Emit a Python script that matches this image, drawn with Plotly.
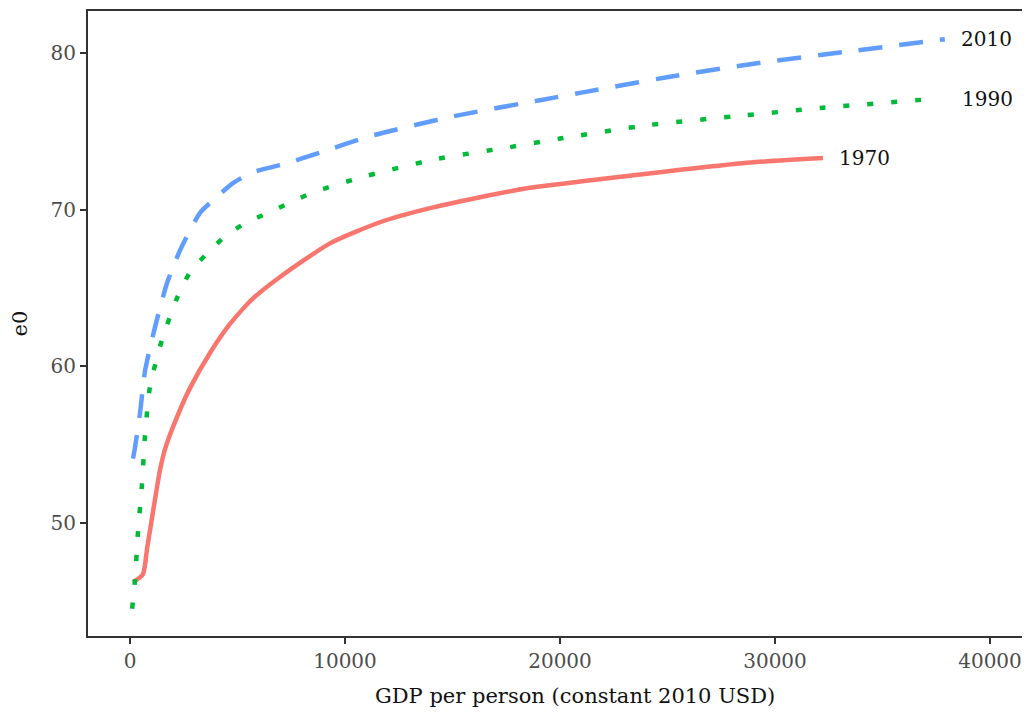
import plotly.graph_objects as go

years = ["1970", "1990", "2010"]

gdp_1970 = [140, 600, 800, 1000, 1200, 1400, 1650, 2200, 2790, 3700, 4650, 5700, 6977,
            9300, 11628, 13953, 16279, 18600, 20930, 24650, 28700, 32230]
e0_1970 = [46.2, 46.7, 48.4, 50.1, 51.8, 53.4, 54.8, 56.8, 58.6, 60.8, 62.7, 64.3, 65.7,
           67.85, 69.2, 70.1, 70.8, 71.4, 71.8, 72.4, 73.0, 73.3]

gdp_1990 = [100, 230, 370, 560, 700, 930, 1490, 2230, 2790, 3580, 4420, 5440, 6420, 7440,
            8510, 10700, 14100, 17670, 20000, 24050, 28050, 32100, 37530]
e0_1990 = [44.5, 46.3, 49.4, 52.5, 55.6, 58.7, 61.7, 64.5, 66.0, 67.2, 68.3, 69.2, 69.8, 70.45,
           71.1, 72.05, 73.2, 74.0, 74.55, 75.4, 75.96, 76.5, 77.1]

gdp_2010 = [140, 233, 465, 700, 1163, 1720, 2326, 3256, 3860, 4790, 5720, 7116, 8837,
            11160, 15000, 19070, 21070, 25116, 29163, 33350, 37900]
e0_2010 = [54.1, 54.8, 57.0, 59.7, 62.5, 65.3, 67.4, 69.8, 70.6, 71.7, 72.4, 72.9, 73.65,
           74.7, 75.96, 77.0, 77.5, 78.5, 79.36, 80.1, 80.9]

x_ticks = [0, 10000, 20000, 30000, 40000]
y_ticks = [50, 60, 70, 80]
x_title = "GDP per person (constant 2010 USD)"
y_title = "e0"

series = [
    (years[0], gdp_1970, e0_1970, "#F8766D", "solid", 14),
    (years[1], gdp_1990, e0_1990, "#00BA38", "6px,18px", 23),
    (years[2], gdp_2010, e0_2010, "#619CFF", "24px,17px", 14),
]

SERIF = "DejaVu Serif"

fig = go.Figure()
for name, xs, ys, color, dash, shift in series:
    fig.add_trace(go.Scatter(x=xs, y=ys, mode="lines", name=name,
                             line=dict(color=color, width=4.5, dash=dash,
                                       shape="spline", smoothing=0.6),
                             showlegend=False, hoverinfo="skip"))
    fig.add_annotation(x=xs[-1], y=ys[-1], text=name, showarrow=False,
                       xanchor="left", yanchor="middle", xshift=shift,
                       font=dict(family=SERIF, size=20, color="#111111"))

# x-axis title centred where the (wider, clipped) original panel centres it
fig.add_annotation(xref="paper", yref="paper", x=0.517, y=0, yshift=-46,
                   xanchor="center", yanchor="top", showarrow=False, text=x_title,
                   font=dict(family=SERIF, size=21, color="#111111"))

fig.update_layout(
    width=1022, height=704,
    margin=dict(l=80, r=0, t=3, b=76),
    paper_bgcolor="white", plot_bgcolor="white",
    font=dict(family=SERIF),
)
fig.update_xaxes(
    range=[-1953, 41860], tickvals=x_ticks, ticktext=[str(v) for v in x_ticks],
    showgrid=False, zeroline=False, showline=True, mirror=True,
    linecolor="#333333", linewidth=2,
    ticks="outside", ticklen=6, tickwidth=1.5, tickcolor="#333333",
    tickfont=dict(family=SERIF, size=20, color="#4d4d4d"),
)
fig.update_yaxes(
    range=[42.76, 82.70], tickvals=y_ticks, ticktext=[str(v) for v in y_ticks],
    showgrid=False, zeroline=False, showline=True, mirror=False,
    linecolor="#333333", linewidth=2,
    ticks="outside", ticklen=6, tickwidth=1.5, tickcolor="#333333",
    tickfont=dict(family=SERIF, size=20, color="#4d4d4d"),
    title=dict(text=y_title, font=dict(family=SERIF, size=21, color="#111111"), standoff=20),
)

fig.write_html("out.html")
